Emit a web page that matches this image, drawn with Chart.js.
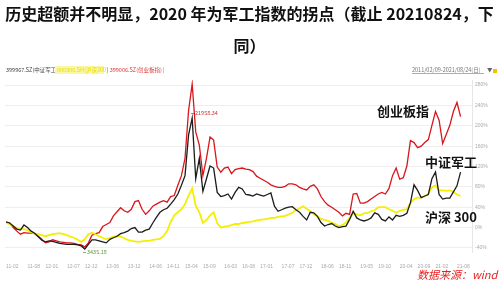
<!DOCTYPE html>
<html>
<head>
<meta charset="utf-8">
<script src="https://cdn.jsdelivr.net/npm/chart.js@4.4.1/dist/chart.umd.min.js"></script>
<style>
  html, body { margin: 0; padding: 0; background: #fff; }
  #wrap { position: relative; width: 499px; height: 283px; overflow: hidden; }
  #chart { position: absolute; left: 0; top: 0; }
  #title {
    position: absolute; left: 0; top: -3px; width: 499px; z-index: 2;
    text-align: center; font-family: "Noto Sans CJK SC", sans-serif;
    font-weight: bold; font-size: 16px; line-height: 32px; color: #111;
    white-space: nowrap;
  }
</style>
</head>
<body>
<div id="wrap">
  <div id="title">历史超额并不明显，2020 年为军工指数的拐点（截止 20210824，下<br>同）</div>
  <canvas id="chart" width="499" height="283"></canvas>
</div>
<script>
"use strict";

// x ticks (month index from 2011-02) and their labels
const tickMonths = [0, 6, 11, 17, 22, 28, 34, 40, 45, 50, 55, 61, 66, 71, 77, 82, 88, 93, 99, 104, 110, 115, 120, 126];
const tickLabels = ["11-02", "11-08", "12-01", "12-07", "12-12", "13-06", "13-12", "14-06", "14-11", "15-04", "15-09", "16-03",
  "16-08", "17-01", "17-07", "17-12", "18-06", "18-11", "19-05", "19-10", "20-04", "20-09", "21-02", "21-08"];
const yTicks = [-40, 0, 40, 80, 120, 160, 200, 240, 280];

// monthly change (%), 2011-02 .. 2021-08
const junGong = [11, 9, 3, -3, -5, 5, 0, -7, -11, -18, -25, -28, -26, -27, -29, -31, -32, -33, -33, -33,
  -34, -36, -42, -33, -24, -24, -26, -28, -30, -23, -20, -17, -12, -10, -7, -2, 0, -9, -9, -5,
  -3, 9, 20, 30, 35, 38, 46, 55, 66, 83, 102, 182, 215, 96, 136, 71, 96, 121, 117, 69,
  61, 63, 66, 56, 69, 79, 76, 65, 64, 62, 66, 64, 62, 65, 68, 42, 32, 35, 38, 40,
  41, 35, 30, 22, 15, 30, 29, 22, 10, 3, 6, 8, 3, 0, 2, 3, 16, 32, 19, 15,
  13, 15, 19, 29, 26, 16, 13, 21, 15, 24, 22, 24, 28, 49, 84, 73, 59, 62, 65, 96,
  109, 65, 56, 58, 58, 70, 82, 109];
const hs300 = [9, 7, 3, -1, -3, -3, -5, -9, -12, -13, -15, -17, -15, -13, -12, -11, -13, -15, -18, -20,
  -24, -28, -23, -13, -10, -13, -17, -20, -23, -20, -18, -17, -18, -21, -24, -26, -27, -28, -27, -26,
  -26, -24, -23, -22, -17, -7, 11, 24, 30, 36, 46, 63, 77, 43, 30, 9, 15, 24, 30, 9,
  0, 2, 3, 5, 7, 7, 9, 10, 11, 12, 14, 15, 16, 17, 19, 19, 21, 22, 23, 26,
  29, 34, 38, 42, 37, 32, 26, 22, 17, 15, 13, 10, 7, 3, 5, 10, 19, 28, 26, 24,
  28, 29, 32, 34, 40, 40, 40, 36, 33, 29, 33, 35, 36, 48, 56, 59, 59, 61, 66, 79,
  83, 73, 73, 72, 73, 70, 65, 62];
const chuangYe = [10, 9, 0, -7, -13, -10, -11, -11, -12, -17, -23, -30, -28, -24, -26, -28, -29, -30, -30, -31,
  -33, -34, -38, -30, -15, -12, -10, 2, 6, 10, 23, 31, 39, 33, 30, 36, 51, 53, 36, 26,
  33, 42, 46, 50, 53, 50, 61, 63, 83, 102, 136, 230, 282, 188, 162, 102, 136, 178, 172, 119,
  109, 117, 119, 106, 114, 116, 117, 115, 114, 110, 101, 97, 93, 89, 84, 81, 79, 79, 81, 86,
  86, 84, 79, 76, 74, 81, 84, 76, 61, 51, 44, 40, 35, 30, 23, 28, 26, 66, 67, 48,
  48, 51, 56, 61, 66, 69, 66, 77, 102, 117, 95, 98, 121, 171, 167, 157, 160, 167, 173, 201,
  228, 211, 165, 183, 201, 228, 246, 218];

const toPoints = (arr) => arr.map((v, i) => ({ x: i, y: v }));

// Extra texts drawn on the canvas
const overlay = {
  id: "overlay",
  afterDraw(chart) {
    const c = chart.ctx;
    c.save();
    c.textBaseline = "middle";
    c.textAlign = "left";

    // top legend strip
    c.font = '5.5px "Noto Sans CJK SC"';
    c.fillStyle = "#444";
    c.fillText("399967.SZ(中证军工) |", 6, 70);
    c.fillStyle = "#fbf7a8";
    c.fillRect(55, 66, 49, 8);
    c.fillStyle = "#e6de00";
    c.fillText("000300.SH(沪深300)", 57, 70);
    c.fillStyle = "#e03535";
    c.fillText("| 399006.SZ(创业板指) |", 107, 70);

    // date range
    c.fillStyle = "#777";
    c.fillText("2011/02/09-2021/08/24(日)", 412, 70);
    c.fillRect(412, 73, 72, 0.6);
    c.fillStyle = "#666";
    c.fillText("▼", 487, 70);
    c.fillStyle = "#f2c200";
    c.fillRect(493, 69, 4, 4);

    // max / min marks
    c.fillStyle = "#d63030";
    c.fillRect(191, 113, 3, 0.7);
    c.fillText("21958.34", 195, 113);
    c.fillStyle = "#5f9a3a";
    c.fillRect(83, 252, 3, 0.7);
    c.fillText("3435.18", 87, 252);

    // series labels
    c.fillStyle = "#111";
    c.font = 'bold 13px "Noto Sans CJK SC"';
    c.fillText("创业板指", 377, 111);
    c.fillText("中证军工", 425, 162);
    c.fillText("沪深 300", 425, 217);

    // source
    c.fillStyle = "#e8201f";
    c.font = 'italic 11px "Noto Sans CJK SC"';
    c.fillText("数据来源：wind", 417, 275);
    c.restore();
  }
};

const ctx = document.getElementById("chart").getContext("2d");
new Chart(ctx, {
  type: "line",
  data: {
    datasets: [
      { label: "中证军工", data: toPoints(junGong), borderColor: "#1c1c1c", borderWidth: 1.3 },
      { label: "沪深300", data: toPoints(hs300), borderColor: "#f4ef00", borderWidth: 1.8 },
      { label: "创业板指", data: toPoints(chuangYe), borderColor: "#d8161c", borderWidth: 1.3 }
    ]
  },
  options: {
    responsive: false,
    animation: false,
    layout: { padding: { top: 80, left: 5, right: 0, bottom: 0 } },
    plugins: { legend: { display: false }, tooltip: { enabled: false } },
    elements: { point: { radius: 0 }, line: { tension: 0 } },
    scales: {
      x: {
        type: "linear",
        min: -0.3,
        max: 130.2,
        afterBuildTicks: (scale) => { scale.ticks = tickMonths.map((v) => ({ value: v })); },
        afterFit: (scale) => { scale.height = 31; },
        grid: { display: false },
        border: { display: false },
        ticks: {
          align: "start",
          autoSkip: false,
          maxRotation: 0,
          padding: 4,
          color: "#aaa",
          font: { size: 5 },
          callback: (v) => tickLabels[tickMonths.indexOf(v)]
        }
      },
      y: {
        position: "right",
        min: -48,
        max: 290,
        afterBuildTicks: (scale) => { scale.ticks = yTicks.map((v) => ({ value: v })); },
        afterFit: (scale) => { scale.width = 27; },
        grid: { color: "#eeeeee", drawTicks: false },
        border: { color: "#e6e6e6" },
        ticks: { padding: 3, color: "#aaa", font: { size: 5 }, callback: (v) => v + "%" }
      }
    }
  },
  plugins: [overlay]
});
</script>
</body>
</html>
